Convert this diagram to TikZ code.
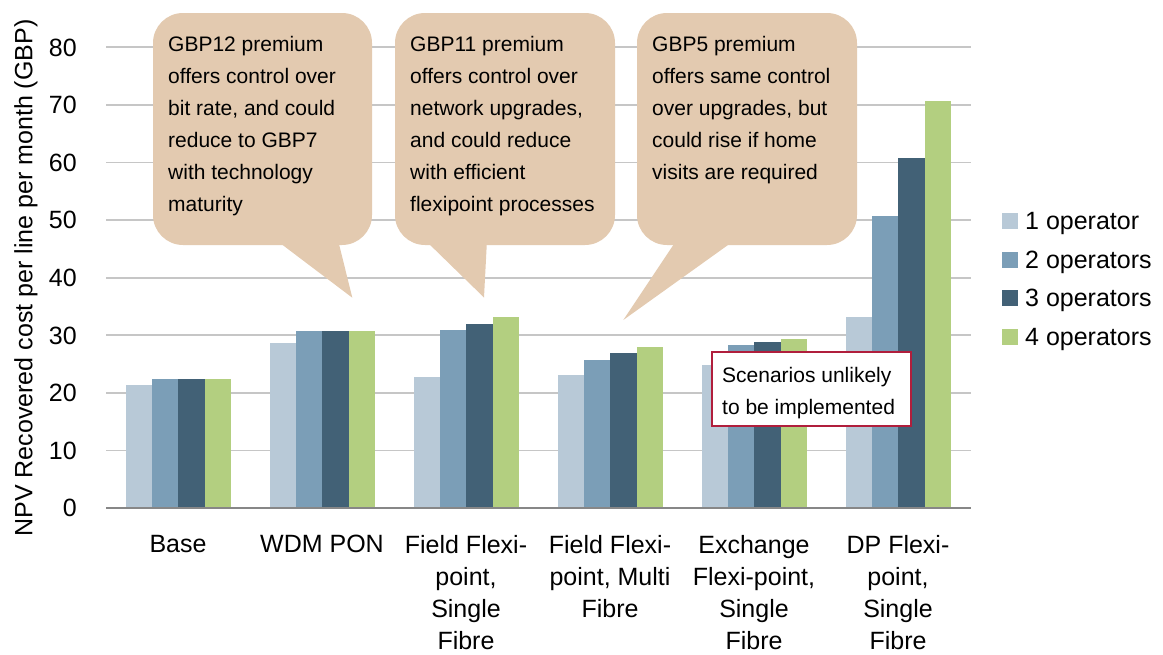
\documentclass[tikz,border=0pt]{standalone}
\usepackage{fontspec}
\setmainfont{Liberation Sans}
\definecolor{opA}{HTML}{B8C9D7}
\definecolor{opB}{HTML}{7B9EB7}
\definecolor{opC}{HTML}{426176}
\definecolor{opD}{HTML}{B3CF80}
\definecolor{calloutTan}{HTML}{E3CAB0}
\definecolor{gridgray}{HTML}{C6C6C6}
\definecolor{axisgray}{HTML}{878787}
\definecolor{boxred}{HTML}{B01E3C}
\begin{document}
\begin{tikzpicture}[x=1pt,y=-1pt,
  gridline/.style={draw=gridgray,line width=1.8pt},
  axisline/.style={draw=axisgray,line width=1.6pt},
  ticklab/.style={font=\fontsize{25}{30}\selectfont,anchor=base east,inner sep=0pt},
  catlab/.style={font=\fontsize{25}{32}\selectfont,anchor=north,align=center,inner sep=0pt},
  leglab/.style={font=\fontsize{25}{30}\selectfont,anchor=base west,inner sep=0pt},
  callbox/.style={fill=calloutTan,rounded corners=30pt},
  calltext/.style={font=\fontsize{21}{32}\selectfont,anchor=north west,align=left,inner sep=0pt},
  notebox/.style={draw=boxred,line width=1.8pt,fill=white}]
\useasboundingbox (0,0) rectangle (1163,654);

% gridlines
\foreach \v in {10,20,...,80} {
  \draw[gridline] (106,508-5.76*\v) -- (971,508-5.76*\v);
}
% tick labels
\foreach \v in {0,10,...,80} {
  \node[ticklab] (tick\v) at (77,508-5.76*\v+8.8) {\v};
}
% y axis title
\node[font=\fontsize{25}{30}\selectfont,rotate=90,inner sep=0pt] (ytitle) at (26,278) {NPV Recovered cost per line per month (GBP)};

% bars
\foreach \g/\a/\b/\c/\d in {0/385/379/379/379, 1/343/331/331/331, 2/377/330/324/317, 3/375/360/353/347, 4/365/345/342/339, 5/317/216/158/101} {
  \fill[opA] (126+144*\g,508) rectangle (152.2+144*\g,\a);
  \fill[opB] (152.2+144*\g,508) rectangle (178.4+144*\g,\b);
  \fill[opC] (178.4+144*\g,508) rectangle (204.6+144*\g,\c);
  \fill[opD] (204.6+144*\g,508) rectangle (230.8+144*\g,\d);
}
% axis
\draw[axisline] (106,508) -- (971,508);

% category labels
\node[catlab] (cat0) at (178,535) {Base};
\node[catlab] (cat1) at (322,535) {WDM PON};
\node[catlab] (cat2) at (466,535) {Field Flexi-\\point,\\Single\\Fibre};
\node[catlab] (cat3) at (610,535) {Field Flexi-\\point, Multi\\Fibre};
\node[catlab] (cat4) at (754,535) {Exchange\\Flexi-point,\\Single\\Fibre};
\node[catlab] (cat5) at (898,535) {DP Flexi-\\point,\\Single\\Fibre};

% callouts
\fill[callbox] (153,13) rectangle (372,245);
\fill[calloutTan] (276,240) -- (352.3,297.7) -- (338,240) -- cycle;
\node[calltext] (call1) at (168,36.5) {GBP12 premium\\offers control over\\bit rate, and could\\reduce to GBP7\\with technology\\maturity};

\fill[callbox] (395,13) rectangle (615,245);
\fill[calloutTan] (425,240) -- (484,297.5) -- (487,240) -- cycle;
\node[calltext] (call2) at (410,36.5) {GBP11 premium\\offers control over\\network upgrades,\\and could reduce\\with efficient\\flexipoint processes};

\fill[callbox] (637,13) rectangle (857,245);
\fill[calloutTan] (676.6,240) -- (623.3,320) -- (735,240) -- cycle;
\node[calltext] (call3) at (652,36.5) {GBP5 premium\\offers same control\\over upgrades, but\\could rise if home\\visits are required};

% note box
\node[notebox,minimum width=199pt,minimum height=73.5pt,inner sep=0pt] (note) at (811.5,389) {};
\node[calltext] (notetext) at (722,367.5) {Scenarios unlikely\\to be implemented};

% legend
\fill[opA] (1002,213) rectangle (1018,229);
\node[leglab] (leg1) at (1025,229.5) {1 operator};
\fill[opB] (1002,252) rectangle (1018,268);
\node[leglab] (leg2) at (1025,268) {2 operators};
\fill[opC] (1002,290) rectangle (1018,306);
\node[leglab] (leg3) at (1025,306) {3 operators};
\fill[opD] (1002,329) rectangle (1018,345);
\node[leglab] (leg4) at (1025,345) {4 operators};
\end{tikzpicture}
\end{document}
